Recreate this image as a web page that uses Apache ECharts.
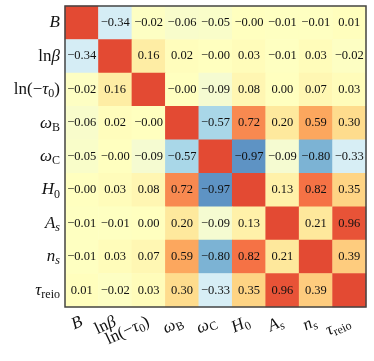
<!DOCTYPE html>
<html><head><meta charset="utf-8">
<script src="https://cdn.jsdelivr.net/npm/echarts@6/dist/echarts.min.js"></script>
<style>html,body{margin:0;padding:0;background:#fff}#c{width:374px;height:361px}</style>
</head><body><div id="c"></div>
<script>
// Parameter names (rows top->bottom, columns left->right)
const params = ['B','lnbeta','lntau0','omegaB','omegaC','H0','As','ns','taureio'];
// Rich-text tick labels
const tickLabels = [
  '{it|B}',
  '{rm|ln}{it|β}',
  '{rm|ln(−}{it|τ}{sub|0}{rm|)}',
  '{it|ω}{sub|B}',
  '{it|ω}{sub|C}',
  '{it|H}{sub|0}',
  '{it|A}{subi|s}',
  '{it|n}{subi|s}',
  '{it|τ}{sub|reio}'
];
// Correlation matrix rows (diagonal = 1, unlabeled); -0 means "−0.00"
const rowB       = [ 1,    -0.34, -0.02, -0.06, -0.05, -0.00, -0.01, -0.01,  0.01];
const rowLnBeta  = [-0.34,  1,     0.16,  0.02, -0.00,  0.03, -0.01,  0.03, -0.02];
const rowLnTau0  = [-0.02,  0.16,  1,    -0.00, -0.09,  0.08,  0.00,  0.07,  0.03];
const rowOmegaB  = [-0.06,  0.02, -0.00,  1,    -0.57,  0.72,  0.20,  0.59,  0.30];
const rowOmegaC  = [-0.05, -0.00, -0.09, -0.57,  1,    -0.97, -0.09, -0.80, -0.33];
const rowH0      = [-0.00,  0.03,  0.08,  0.72, -0.97,  1,     0.13,  0.82,  0.35];
const rowAs      = [-0.01, -0.01,  0.00,  0.20, -0.09,  0.13,  1,     0.21,  0.96];
const rowNs      = [-0.01,  0.03,  0.07,  0.59, -0.80,  0.82,  0.21,  1,     0.39];
const rowTauReio = [ 0.01, -0.02,  0.03,  0.30, -0.33,  0.35,  0.96,  0.39,  1   ];
const rows = [rowB,rowLnBeta,rowLnTau0,rowOmegaB,rowOmegaC,rowH0,rowAs,rowNs,rowTauReio];

const data = [];
rows.forEach((r,i)=>r.forEach((v,j)=>data.push([j,i,v])));

const serif = '"Liberation Serif","DejaVu Serif",serif';
const rich = {
  it:{fontFamily:serif,fontStyle:'italic',fontSize:17,color:'#111'},
  rm:{fontFamily:serif,fontSize:17,color:'#111'},
  sub:{fontFamily:serif,fontSize:12,color:'#111',padding:[9,0,0,0]},
  subi:{fontFamily:serif,fontStyle:'italic',fontSize:12,color:'#111',padding:[9,0,0,0]}
};
const fmt = v => (v<0||Object.is(v,-0)?'−':'') + Math.abs(v).toFixed(2);

const chart = echarts.init(document.getElementById('c'),null,{renderer:'canvas'});
chart.setOption({
  animation:false,
  grid:{left:65,top:6,width:301,height:301,show:true,borderColor:'#444',borderWidth:1.5,z:10},
  xAxis:{type:'category',data:params,axisLine:{show:false},axisTick:{show:false},splitLine:{show:false},
    axisLabel:{interval:0,rotate:25,margin:14,formatter:(v,i)=>tickLabels[i],rich:rich}},
  yAxis:{type:'category',data:params,inverse:true,axisLine:{show:false},axisTick:{show:false},splitLine:{show:false},
    axisLabel:{interval:0,margin:5,formatter:(v,i)=>tickLabels[i],rich:rich}},
  visualMap:{show:false,min:-1.4,max:1.4,dimension:2,
    inRange:{color:['#313695','#4575b4','#74add1','#abd9e9','#e0f3f8','#ffffbf','#fee090','#fdae61','#f46d43','#d73027','#a50026']}},
  series:[{type:'heatmap',data:data,
    label:{show:true,fontFamily:serif,fontSize:12.5,color:'#111',
      formatter:p=>p.value[0]===p.value[1]?'':fmt(p.value[2])},
    itemStyle:{borderWidth:0}}]
});
</script></body></html>
